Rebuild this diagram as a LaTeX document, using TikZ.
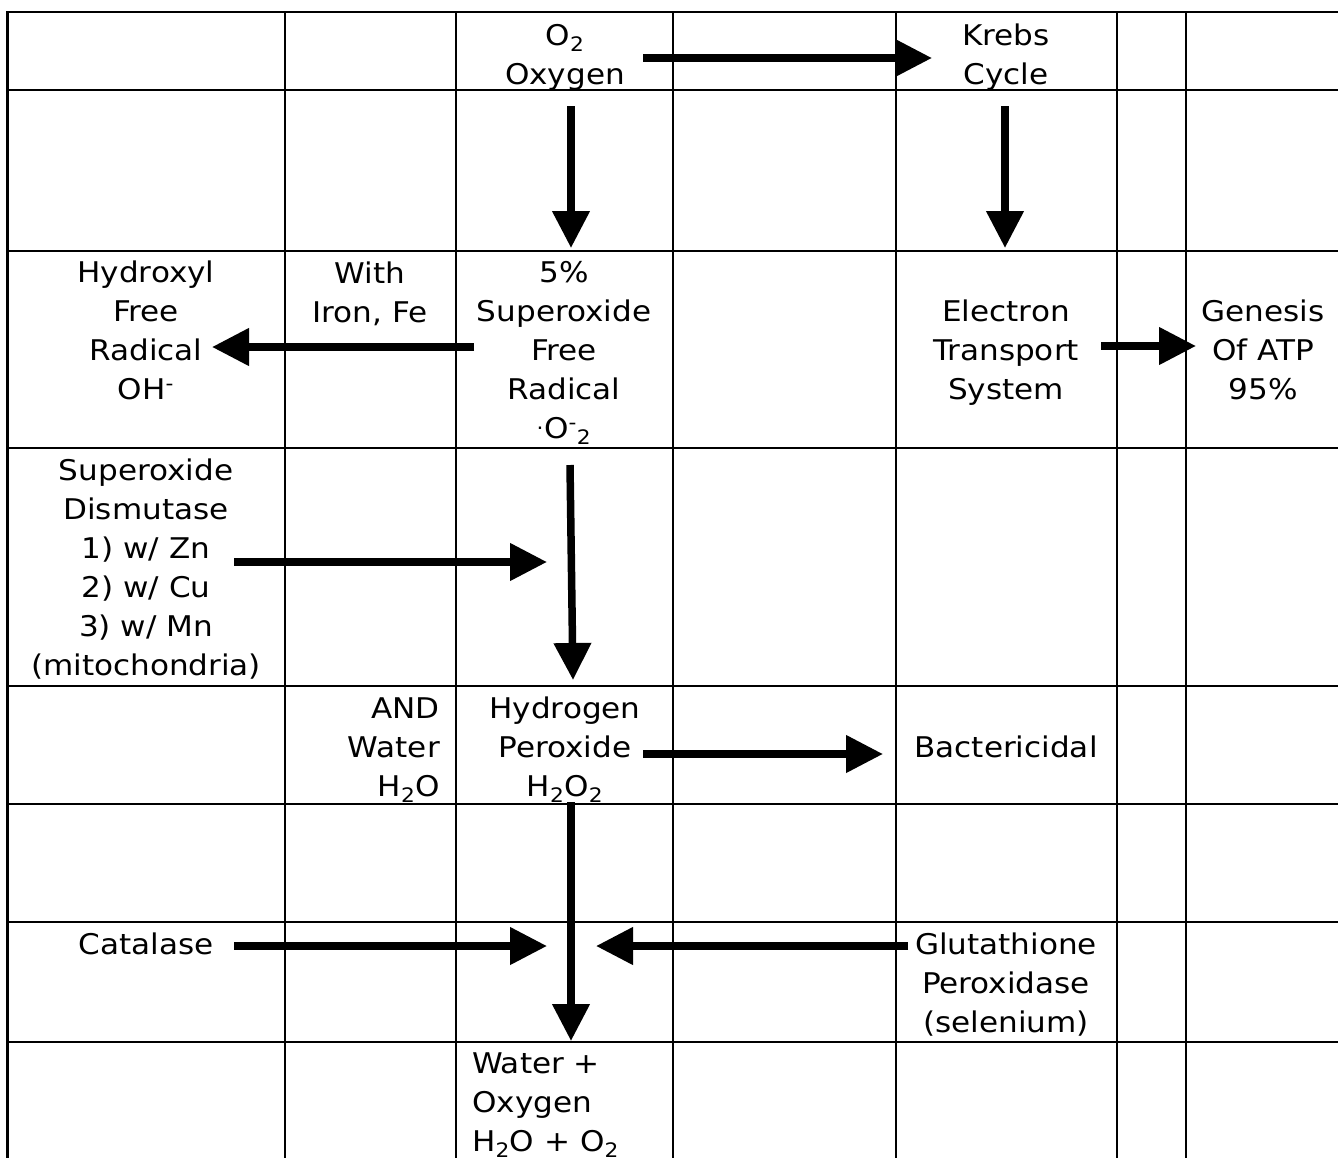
\documentclass[tikz,border=0pt]{standalone}
\usepackage{fontspec}
\setmainfont{DejaVu Sans}[FakeStretch=1.09]
\usetikzlibrary{arrows.meta,calc}
\newcommand{\tstr}{\rule[-9pt]{0pt}{39pt}}
\begin{document}
\begin{tikzpicture}[x=1pt,y=-1pt,
  gridline/.style={line width=2.2pt, line cap=rect},
  txt/.style={inner sep=0pt, align=center, font=\fontsize{28.5pt}{39pt}\selectfont},
  txtr/.style={txt, align=right},
  txtl/.style={txt, align=left},
  arr/.style={line width=7.5pt, -{Triangle[length=37pt,width=36pt]}},
]
\useasboundingbox (0,0) rectangle (1338,1157);
\begin{scope}
\clip (0,0) rectangle (1338,1157);
\foreach \x in {7.5,285,456,673,896,1117,1186} \draw[gridline] (\x,12) -- (\x,1170);
\foreach \y in {12,90,251,448,686,804,922,1042} \draw[gridline] (7.5,\y) -- (1350,\y);
\end{scope}

% text nodes
\node[txt] (o2) at (565,54) {\tstr O\textsubscript{2}\\\tstr Oxygen};
\node[txt] (krebs) at (1006,54) {\tstr Krebs\\\tstr Cycle};
\node[txt] (hyd) at (146,330.5) {\tstr Hydroxyl\\\tstr Free\\\tstr Radical\\\tstr OH\textsuperscript{-}};
\node[txt] (with) at (370,292) {\tstr With\\\tstr Iron, Fe};
\node[txt] (sup) at (564,350) {\tstr 5\%\\\tstr Superoxide\\\tstr Free\\\tstr Radical\\\tstr \textsuperscript{.}O\textsuperscript{-}\textsubscript{2}};
\node[txt] (ets) at (1006,349.5) {\tstr Electron\\\tstr Transport\\\tstr System};
\node[txt] (gen) at (1263,349.5) {\tstr Genesis\\\tstr Of ATP\\\tstr 95\%};
\node[txt] (sod) at (146,567) {\tstr Superoxide\\\tstr Dismutase\\\tstr 1) w/ Zn\\\tstr 2) w/ Cu\\\tstr 3) w/ Mn\\\tstr (mitochondria)};
\node[txtr, anchor=east] (and) at (440,747) {\tstr AND\\\tstr Water\\\tstr H\textsubscript{2}O};
\node[txt] (h2o2) at (565,747) {\tstr Hydrogen\\\tstr Peroxide\\\tstr H\textsubscript{2}O\textsubscript{2}};
\node[txt] (bac) at (1006,747) {\tstr Bactericidal};
\node[txt] (cat) at (146,944) {\tstr Catalase};
\node[txt] (glu) at (1006,983) {\tstr Glutathione\\\tstr Peroxidase\\\tstr (selenium)};
\node[txtl, anchor=west] (wat) at (472,1102) {\tstr Water +\\\tstr Oxygen\\\tstr H\textsubscript{2}O + O\textsubscript{2}};

% free arrow ends
\coordinate (sodtip) at (547,562);
\coordinate (cattip) at (547,946);
\coordinate (glutip) at (596,946);

% arrows
\draw[arr] ($(o2.center)+(78,4)$) -- ($(krebs.center)+(-74,4)$);
\draw[arr] ($(o2.center)+(6,52)$) -- ($(sup.center)+(7,-102)$);
\draw[arr] ($(krebs.center)+(-1,52)$) -- ($(ets.center)+(-1,-101.5)$);
\draw[arr] ($(sup.center)+(-90,-3)$) -- ($(hyd.center)+(66,16.5)$);
\draw[arr] ($(ets.center)+(95,-3.5)$) -- ($(gen.center)+(-67,-3.5)$);
\draw[arr] ($(sod.center)+(88,-5)$) -- (sodtip);
\draw[arr] ($(sup.center)+(6,115)$) -- ($(h2o2.center)+(8,-67)$);
\draw[arr] ($(h2o2.center)+(78,7)$) -- ($(bac.center)+(-123,7)$);
\draw[arr] ($(h2o2.center)+(6,55)$) -- ($(wat.west)+(99,-61)$);
\draw[arr] ($(cat.center)+(88,2)$) -- (cattip);
\draw[arr] ($(glu.center)+(-98,-37)$) -- (glutip);
\end{tikzpicture}
\end{document}
